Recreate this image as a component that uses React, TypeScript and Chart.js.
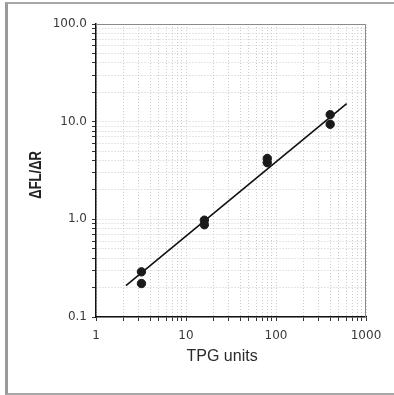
import React, { useEffect, useRef } from "react";
import { Chart, registerables } from "chart.js";

Chart.register(...registerables);

// Measured points (TPG units vs ΔFL/ΔR)
const pointX = [3.2, 3.2, 16, 16, 80, 80, 400, 400];
const pointY = [0.29, 0.22, 0.98, 0.88, 4.2, 3.8, 11.8, 9.4];

// Fitted line end points
const fitX = [2.15, 610];
const fitY = [0.21, 15.3];

// Axis tick values & labels
const xTickValues = [1, 2, 3, 4, 5, 6, 7, 8, 9, 10, 20, 30, 40, 50, 60, 70, 80, 90, 100, 200, 300, 400, 500, 600, 700, 800, 900, 1000];
const yTickValues = [0.1, 0.2, 0.3, 0.4, 0.5, 0.6, 0.7, 0.8, 0.9, 1, 2, 3, 4, 5, 6, 7, 8, 9, 10, 20, 30, 40, 50, 60, 70, 80, 90, 100];
const xMajor = [1, 10, 100, 1000];
const xMajorLabels = ["1", "10", "100", "1000"];
const yMajor = [0.1, 1, 10, 100];
const yMajorLabels = ["0.1", "1.0", "10.0", "100.0"];

const xTitle = "TPG units";
const yTitle = "ΔFL/ΔR";

const close = (a: number, b: number) => Math.abs(a - b) / b < 1e-6;

export default function App() {
  const ref = useRef<HTMLCanvasElement>(null);

  useEffect(() => {
    document.body.style.margin = "0";
    document.body.style.overflow = "hidden";
    const canvas = ref.current!;
    const titlePlugin = {
      id: "axisTitles",
      afterDraw(chart: any) {
        const { ctx, chartArea } = chart;
        ctx.save();
        // plot frame top/right
        ctx.strokeStyle = "#8a8a8a";
        ctx.lineWidth = 1;
        ctx.beginPath();
        ctx.moveTo(chartArea.left, chartArea.top + 0.5);
        ctx.lineTo(chartArea.right - 0.5, chartArea.top + 0.5);
        ctx.lineTo(chartArea.right - 0.5, chartArea.bottom);
        ctx.stroke();
        ctx.fillStyle = "#2a2a2a";
        ctx.textAlign = "center";
        ctx.textBaseline = "middle";
        ctx.font = '16px "Liberation Sans", Arial, sans-serif';
        ctx.fillText(xTitle, chartArea.left + chartArea.width * 0.467, chartArea.bottom + 40);
        ctx.fillStyle = "#222";
        ctx.translate(chartArea.left - 59, chartArea.top + chartArea.height * 0.515);
        ctx.rotate(-Math.PI / 2);
        ctx.scale(1, 1.25);
        ctx.font = 'bold 13px "Liberation Sans", Arial, sans-serif';
        ctx.fillText(yTitle, 0, 0);
        ctx.restore();
      },
    };

    const gridOpts = {
      color: "#cdcdcd",
      lineWidth: 1,
      tickLength: 4,
      tickColor: "#333",
      tickBorderDash: [],
      tickWidth: 1,
    };
    const borderOpts = { color: "#111", width: 1.5, dash: [1, 2] };

    const chart = new Chart(canvas, {
      type: "scatter",
      data: {
        datasets: [
          {
            label: "data",
            data: pointX.map((x, i) => ({ x, y: pointY[i] })),
            backgroundColor: "#1a1a1a",
            borderColor: "#1a1a1a",
            pointRadius: 4.2,
            showLine: false,
          },
          {
            label: "fit",
            data: fitX.map((x, i) => ({ x, y: fitY[i] })),
            borderColor: "#111",
            borderWidth: 1.6,
            pointRadius: 0,
            showLine: true,
            fill: false,
          },
        ],
      },
      options: {
        animation: false,
        responsive: false,
        devicePixelRatio: 1,
        layout: { padding: { top: 24, right: 28, left: 0, bottom: 0 } },
        plugins: { legend: { display: false }, tooltip: { enabled: false } },
        scales: {
          x: {
            type: "logarithmic",
            position: "bottom",
            min: 1,
            max: 1000,
            afterBuildTicks: (s: any) => {
              s.ticks = xTickValues.map((v) => ({ value: v, major: xMajor.some((m) => close(m, v)) }));
            },
            afterFit: (s: any) => {
              s.height = 78;
            },
            ticks: {
              autoSkip: false,
              maxRotation: 0,
              padding: 8,
              color: "#3a3a3a",
              font: { family: '"DejaVu Sans", sans-serif', size: 12 },
              callback: (v: any) => {
                const i = xMajor.findIndex((m) => close(m, Number(v)));
                return i >= 0 ? xMajorLabels[i] : "";
              },
            },
            grid: gridOpts,
            border: borderOpts,
          },
          y: {
            type: "logarithmic",
            min: 0.1,
            max: 100,
            afterBuildTicks: (s: any) => {
              s.ticks = yTickValues.map((v) => ({ value: v, major: yMajor.some((m) => close(m, v)) }));
            },
            afterFit: (s: any) => {
              s.width = 96;
            },
            ticks: {
              autoSkip: false,
              padding: 5,
              color: "#3a3a3a",
              font: { family: '"DejaVu Sans", sans-serif', size: 12 },
              callback: (v: any) => {
                const i = yMajor.findIndex((m) => close(m, Number(v)));
                return i >= 0 ? yMajorLabels[i] : "";
              },
            },
            grid: gridOpts,
            border: borderOpts,
          },
        },
      },
      plugins: [titlePlugin],
    } as any);
    return () => chart.destroy();
  }, []);

  return (
    <div style={{ position: "relative", width: 394, height: 395, overflow: "hidden" }}>
      <div
        style={{
          position: "absolute",
          left: 5,
          top: 2,
          width: 420,
          height: 393,
          boxSizing: "border-box",
          borderTop: "2px solid #a8a8a8",
          borderLeft: "3px solid #9a9a9a",
          borderBottom: "2px solid #a8a8a8",
        }}
      />
      <canvas ref={ref} width={394} height={395} style={{ position: "absolute", left: 0, top: 0 }} />
    </div>
  );
}
